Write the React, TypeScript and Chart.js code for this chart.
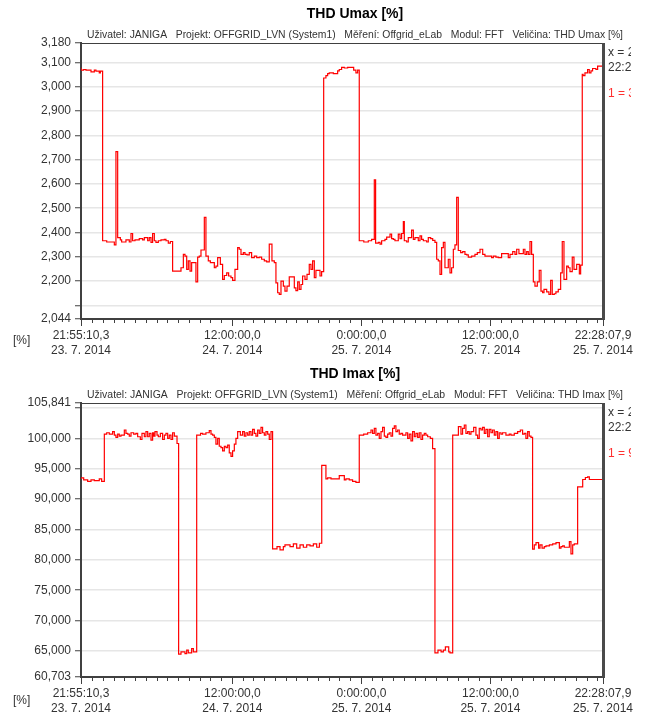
import React, { useEffect, useRef } from 'react';
import { Chart, registerables } from 'chart.js';

Chart.register(...registerables);

// Time axis: hours elapsed since 23. 7. 2014 21:55:10,3
const SPAN_HOURS = 48.5493;
const FIRST_FULL_HOUR = 0.0806; // 22:00:00 on the first day
const xLabelHours = [0, 14.0806, 26.0806, 38.0806, 48.5493];
const xLabelTime = ['21:55:10,3', '12:00:00,0', '0:00:00,0', '12:00:00,0', '22:28:07,9'];
const xLabelDate = ['23. 7. 2014', '24. 7. 2014', '25. 7. 2014', '25. 7. 2014', '25. 7. 2014'];
const cursorDate = '25. 7. 2014';
const cursorTime = '22:28:07,9';

const subtitleUser = 'Uživatel: JANIGA';
const subtitleProject = 'Projekt: OFFGRID_LVN (System1)';
const subtitleMeasurement = 'Měření: Offgrid_eLab';
const subtitleModule = 'Modul: FFT';

// THD Umax [%]
const umaxTicks = [2.044, 2.1, 2.2, 2.3, 2.4, 2.5, 2.6, 2.7, 2.8, 2.9, 3.0, 3.1, 3.18];
const umaxUnlabeled = [2.1];
const umaxHours = [
  0, 0.25, 0.46, 0.93, 1.24, 1.39, 1.7, 1.8, 2.01, 2.39, 3.1, 3.25, 3.41, 3.66, 3.78, 4.18, 4.49, 4.65, 4.8, 5.02,
  5.42, 5.73, 5.89, 6.2, 6.35, 6.51, 6.66, 6.82, 6.97, 7.19, 7.44, 7.75, 7.9, 8.12, 8.31, 8.52, 9.3, 9.52, 9.67, 9.83,
  9.98, 10.14, 10.29, 10.69, 10.85, 11.0, 11.16, 11.47, 11.62, 11.84, 12.03, 12.4, 12.55, 12.71, 12.96, 13.17, 13.33, 13.55, 13.73, 13.95,
  14.1, 14.32, 14.57, 14.72, 14.88, 15.1, 15.25, 15.44, 15.65, 15.87, 16.12, 16.34, 16.58, 16.8, 17.05, 17.27, 17.51, 17.76, 17.98, 18.13,
  18.29, 18.44, 18.6, 18.82, 18.97, 19.16, 19.37, 19.84, 19.99, 20.15, 20.3, 20.46, 20.61, 20.83, 21.02, 21.23, 21.39, 21.54, 21.7, 21.85,
  22.23, 22.38, 22.57, 22.78, 22.94, 23.09, 23.47, 23.87, 24.02, 24.24, 24.49, 24.8, 25.36, 25.57, 25.73, 25.88, 26.3, 26.72, 27.03, 27.28,
  27.4, 27.65, 27.81, 27.96, 28.27, 28.43, 28.74, 28.89, 29.05, 29.2, 29.51, 29.67, 29.82, 29.98, 30.07, 30.29, 30.44, 30.75, 30.91, 31.06,
  31.37, 31.53, 31.68, 31.84, 32.15, 32.3, 32.52, 32.71, 32.92, 33.08, 33.23, 33.39, 33.54, 33.7, 33.85, 34.16, 34.32, 34.47, 34.63, 34.78,
  34.94, 35.09, 35.31, 35.5, 35.71, 35.87, 36.02, 36.33, 36.64, 36.86, 37.11, 37.36, 37.57, 38.19, 38.35, 38.59, 38.81, 39.12, 39.74, 39.9,
  40.15, 40.36, 40.52, 40.73, 41.14, 41.29, 41.45, 41.6, 41.76, 41.91, 42.07, 42.22, 42.44, 42.62, 42.78, 42.93, 43.06, 43.31, 43.52, 43.68,
  43.83, 44.02, 44.17, 44.39, 44.61, 44.76, 44.92, 45.17, 45.32, 45.48, 45.69, 45.85, 46.1, 46.35, 46.47, 46.62, 46.7, 46.87, 47.12, 47.27,
  47.43, 47.58, 47.89, 48.05, 48.26,
];
const umaxValues = [
  3.078, 3.068, 3.071, 3.068, 3.061, 3.068, 3.064, 3.057, 3.064, 2.366, 2.361, 2.349, 2.733, 2.379, 2.37, 2.361, 2.37, 2.361, 2.396, 2.366,
  2.37, 2.375, 2.37, 2.379, 2.366, 2.379, 2.359, 2.396, 2.366, 2.359, 2.366, 2.37, 2.372, 2.366, 2.356, 2.363, 2.241, 2.255, 2.31, 2.303,
  2.248, 2.283, 2.241, 2.276, 2.197, 2.299, 2.303, 2.328, 2.462, 2.303, 2.283, 2.276, 2.255, 2.262, 2.297, 2.269, 2.207, 2.223, 2.234, 2.221,
  2.214, 2.203, 2.248, 2.338, 2.331, 2.31, 2.317, 2.31, 2.308, 2.317, 2.297, 2.303, 2.297, 2.299, 2.29, 2.283, 2.279, 2.352, 2.283, 2.276,
  2.193, 2.152, 2.145, 2.2, 2.179, 2.159, 2.179, 2.217, 2.172, 2.161, 2.197, 2.166, 2.186, 2.221, 2.207, 2.228, 2.269, 2.248, 2.283, 2.214,
  2.244, 2.221, 2.239, 3.036, 3.046, 3.054, 3.057, 3.054, 3.065, 3.071, 3.08, 3.077, 3.08, 3.068, 3.057, 3.068, 2.366, 2.361, 2.366, 2.372,
  2.617, 2.356, 2.359, 2.352, 2.366, 2.372, 2.381, 2.393, 2.375, 2.372, 2.366, 2.393, 2.375, 2.396, 2.445, 2.366, 2.361, 2.379, 2.41, 2.372,
  2.379, 2.366, 2.386, 2.372, 2.366, 2.361, 2.379, 2.375, 2.368, 2.359, 2.29, 2.283, 2.228, 2.338, 2.359, 2.255, 2.29, 2.234, 2.255, 2.331,
  2.349, 2.545, 2.326, 2.317, 2.321, 2.31, 2.308, 2.299, 2.303, 2.31, 2.317, 2.331, 2.31, 2.303, 2.297, 2.303, 2.299, 2.297, 2.313, 2.297,
  2.31, 2.321, 2.31, 2.331, 2.313, 2.331, 2.31, 2.321, 2.31, 2.363, 2.31, 2.197, 2.179, 2.197, 2.244, 2.159, 2.152, 2.166, 2.156, 2.145,
  2.203, 2.145, 2.148, 2.156, 2.166, 2.234, 2.363, 2.207, 2.262, 2.255, 2.239, 2.299, 2.248, 2.269, 2.23, 2.266, 3.051, 3.046, 3.057, 3.071,
  3.057, 3.065, 3.075, 3.071, 3.085,
];

// THD Imax [%]
const imaxTicks = [60.703, 65, 70, 75, 80, 85, 90, 95, 100, 105, 105.841];
const imaxUnlabeled = [105];
const imaxHours = [
  0, 0.25, 0.62, 0.93, 1.24, 1.7, 1.92, 2.17, 2.39, 2.63, 2.94, 3.1, 3.25, 3.41, 3.56, 3.72, 4.03, 4.18, 4.34, 4.49,
  4.65, 4.9, 5.11, 5.27, 5.52, 5.67, 5.89, 6.04, 6.2, 6.35, 6.51, 6.66, 6.76, 6.88, 7.07, 7.19, 7.38, 7.59, 7.75, 7.9,
  8.06, 8.21, 8.37, 8.52, 8.68, 8.93, 9.08, 9.3, 9.67, 9.83, 9.98, 10.29, 10.45, 10.76, 11.12, 11.31, 11.62, 11.93, 12.09, 12.24,
  12.4, 12.55, 12.71, 12.86, 13.02, 13.17, 13.33, 13.48, 13.64, 13.79, 13.95, 14.1, 14.26, 14.41, 14.57, 14.82, 15.03, 15.19, 15.34, 15.5,
  15.65, 15.81, 15.96, 16.12, 16.27, 16.43, 16.58, 16.74, 16.89, 17.05, 17.2, 17.36, 17.51, 17.67, 17.82, 18.23, 18.51, 18.82, 18.97, 19.44,
  19.75, 20.06, 20.37, 20.68, 20.99, 21.3, 21.61, 21.92, 22.17, 22.39, 22.78, 22.94, 23.25, 24.02, 24.49, 24.64, 24.95, 25.26, 25.57, 25.88,
  26.29, 26.66, 26.97, 27.12, 27.28, 27.43, 27.59, 27.74, 27.9, 28.05, 28.21, 28.36, 28.52, 28.67, 28.83, 28.98, 29.14, 29.29, 29.45, 29.6,
  29.76, 29.91, 30.22, 30.38, 30.53, 30.69, 30.84, 31.0, 31.15, 31.31, 31.46, 31.62, 31.77, 31.93, 32.08, 32.24, 32.49, 32.7, 32.92, 33.2,
  33.49, 33.7, 33.89, 34.2, 34.32, 34.57, 35.1, 35.34, 35.49, 35.65, 35.8, 35.96, 36.11, 36.27, 36.52, 36.73, 36.89, 37.04, 37.2, 37.35,
  37.51, 37.66, 37.82, 37.97, 38.13, 38.28, 38.44, 38.59, 38.75, 38.9, 39.06, 39.21, 39.52, 39.83, 39.99, 40.3, 40.61, 40.86, 41.07, 41.23,
  41.38, 41.54, 41.69, 41.85, 42.0, 42.16, 42.32, 42.56, 42.69, 42.88, 43.09, 43.25, 43.56, 43.87, 44.18, 44.49, 44.64, 44.8, 44.95, 45.42,
  45.57, 45.73, 45.88, 46.19, 46.66, 46.91, 47.12, 47.28, 48.05,
];
const imaxValues = [
  93.33, 93.5, 93.17, 92.94, 93.17, 93.06, 93.33, 92.94, 100.72, 100.94, 100.72, 101.11, 100.56, 100.17, 100.72, 100.39, 100.56, 101.39, 100.83, 100.72,
  100.39, 100.94, 100.72, 100.83, 100.28, 99.83, 100.83, 100.28, 101.11, 100.28, 100.83, 99.72, 100.94, 100.39, 101.11, 100.56, 100.28, 100.83, 99.83, 100.56,
  100.83, 100.0, 100.56, 99.83, 100.94, 100.39, 99.17, 64.46, 64.84, 64.57, 65.12, 64.67, 65.39, 64.84, 100.56, 100.83, 100.72, 100.94, 101.28, 100.72,
  100.56, 100.17, 99.06, 100.0, 98.72, 98.5, 97.94, 98.72, 98.5, 98.89, 97.61, 97.06, 97.94, 99.06, 100.0, 101.11, 100.56, 101.11, 100.39, 100.94,
  100.56, 101.11, 100.56, 101.5, 100.83, 100.39, 101.39, 100.83, 101.83, 100.94, 100.56, 101.11, 100.72, 99.83, 101.11, 81.81, 82.19, 81.64, 82.19, 82.47,
  82.19, 82.63, 81.92, 82.47, 82.08, 82.47, 82.3, 82.63, 82.08, 82.74, 95.56, 93.33, 93.5, 93.33, 93.89, 93.17, 93.33, 93.17, 92.94, 92.78,
  100.56, 100.72, 100.94, 101.39, 100.83, 101.67, 100.56, 100.83, 100.0, 101.11, 101.83, 100.39, 100.17, 100.72, 100.94, 100.39, 101.67, 102.06, 101.11, 101.39,
  100.72, 100.83, 100.56, 100.94, 100.0, 100.72, 99.61, 101.11, 100.28, 100.83, 100.17, 100.94, 99.83, 100.56, 100.83, 100.56, 100.28, 100.0, 98.33, 64.67,
  65.12, 64.84, 65.12, 65.66, 64.84, 64.67, 100.56, 101.94, 100.72, 101.67, 102.22, 100.83, 101.11, 100.72, 101.11, 101.83, 100.56, 100.0, 101.67, 101.39,
  101.83, 100.83, 101.5, 100.28, 101.5, 100.94, 101.39, 100.56, 101.11, 100.0, 100.94, 100.72, 100.94, 100.56, 100.72, 100.56, 100.83, 101.11, 101.39, 100.72,
  100.83, 100.0, 101.11, 100.39, 100.17, 81.76, 82.47, 82.85, 81.92, 82.47, 81.92, 82.19, 82.3, 82.47, 82.63, 82.85, 81.92, 82.19, 82.3, 82.08,
  83.0, 80.99, 82.47, 82.63, 92.02, 93.24, 93.57, 93.67, 93.24,
];

const FONT = '"Liberation Sans", Arial, sans-serif';
const TEXT = '#333333';
const AXIS = '#404040';
const LINE_RED = '#ff0000';

const fmt3 = (v: number) => v.toFixed(3).replace('.', ',');

type PanelSpec = {
  quantity: string;
  hours: number[];
  values: number[];
  yTicks: number[];
  yUnlabeled: number[];
  height: number;
  plotBottom: number;
};

const PLOT_LEFT = 81;
const PLOT_RIGHT = 603;
const PLOT_TOP = 43;
const CANVAS_W = 646;
const HEADER_CENTER = 355;
const SUBTITLE_WIDTH = 536;

function xTickHours(): number[] {
  const list: number[] = [...xLabelHours];
  for (let h = FIRST_FULL_HOUR; h < SPAN_HOURS; h += 1) list.push(+h.toFixed(4));
  return Array.from(new Set(list)).sort((a, b) => a - b);
}

const sameHour = (a: number, b: number) => Math.abs(a - b) < 1e-4;

const decorPlugin = {
  id: 'decor',
  afterDraw(chart: any, _args: any, opts: any) {
    const { ctx, chartArea: a } = chart;
    const spec: PanelSpec = opts.spec;
    ctx.save();

    // plot frame: top edge and the heavier right edge
    ctx.fillStyle = AXIS;
    ctx.fillRect(a.left, a.top, a.right - a.left, 1);
    ctx.fillStyle = '#4a4a4a';
    ctx.fillRect(a.right - 1, a.top, 3, a.bottom - a.top + 1);

    // longer marks at the labelled time ticks
    const xs = chart.scales.x;
    ctx.strokeStyle = AXIS;
    ctx.lineWidth = 1;
    xLabelHours.forEach((h) => {
      const px = Math.round(xs.getPixelForValue(h)) + 0.5;
      ctx.beginPath();
      ctx.moveTo(px, a.bottom);
      ctx.lineTo(px, a.bottom + 7);
      ctx.stroke();
    });

    // title
    ctx.fillStyle = '#000000';
    ctx.textAlign = 'center';
    ctx.textBaseline = 'middle';
    ctx.font = `bold 14px ${FONT}`;
    ctx.fillText(`THD ${spec.quantity} [%]`, HEADER_CENTER, 14);

    // measurement description line, set in a narrow face
    const sub = [subtitleUser, subtitleProject, subtitleMeasurement, subtitleModule, `Veličina: THD ${spec.quantity} [%]`].join('   ');
    ctx.font = `11px ${FONT}`;
    ctx.fillStyle = TEXT;
    const natural = ctx.measureText(sub).width;
    ctx.save();
    ctx.translate(HEADER_CENTER, 35);
    ctx.scale(SUBTITLE_WIDTH / natural, 1);
    ctx.fillText(sub, 0, 0);
    ctx.restore();

    // unit label
    ctx.font = `12px ${FONT}`;
    ctx.textAlign = 'left';
    ctx.fillText('[%]', 13, 341);

    // cursor readout (panel is narrower than its text)
    ctx.save();
    ctx.beginPath();
    ctx.rect(606, 44, 25, 60);
    ctx.clip();
    ctx.fillStyle = TEXT;
    ctx.fillText(`x = ${cursorDate}`, 608, 53);
    ctx.fillText(cursorTime, 608, 68);
    ctx.fillStyle = '#ff3030';
    ctx.fillText(`1 = ${fmt3(spec.values[spec.values.length - 1])}`, 608, 94);
    ctx.restore();

    ctx.restore();
  },
};

function buildChart(canvas: HTMLCanvasElement, spec: PanelSpec) {
  const points = spec.hours.map((h, i) => ({ x: h, y: spec.values[i] }));
  points.push({ x: SPAN_HOURS, y: spec.values[spec.values.length - 1] });
  const yMin = spec.yTicks[0];
  const yMax = spec.yTicks[spec.yTicks.length - 1];
  const ticksX = xTickHours();
  const font = { family: FONT, size: 12, lineHeight: 1.25 };

  return new Chart(canvas, {
    type: 'line',
    data: {
      datasets: [
        {
          data: points,
          borderColor: LINE_RED,
          borderWidth: 1.2,
          pointRadius: 0,
          stepped: 'after',
          fill: false,
        },
      ],
    },
    options: {
      animation: false,
      responsive: false,
      maintainAspectRatio: false,
      devicePixelRatio: 1,
      events: [],
      layout: { padding: { left: 0, top: PLOT_TOP, right: CANVAS_W - PLOT_RIGHT, bottom: 0 } },
      plugins: {
        legend: { display: false },
        tooltip: { enabled: false },
        title: { display: false },
        decor: { spec },
      } as any,
      scales: {
        x: {
          type: 'linear',
          min: 0,
          max: SPAN_HOURS,
          afterBuildTicks: (s: any) => {
            s.ticks = ticksX.map((v) => ({ value: v }));
          },
          afterFit: (s: any) => {
            s.height = spec.height - spec.plotBottom;
            s.paddingLeft = 0;
            s.paddingRight = 0;
          },
          ticks: {
            autoSkip: false,
            maxRotation: 0,
            minRotation: 0,
            padding: 5,
            color: TEXT,
            font,
            callback: (v: any) => {
              const i = xLabelHours.findIndex((h) => sameHour(h, Number(v)));
              return i >= 0 ? [xLabelTime[i], xLabelDate[i]] : '';
            },
          },
          grid: {
            drawOnChartArea: false,
            drawTicks: true,
            tickLength: 4,
            tickColor: AXIS,
            tickWidth: 1,
          },
          border: { display: true, color: AXIS, width: 2 },
        },
        y: {
          type: 'linear',
          min: yMin,
          max: yMax,
          afterBuildTicks: (s: any) => {
            s.ticks = spec.yTicks.map((v) => ({ value: v }));
          },
          afterFit: (s: any) => {
            s.width = PLOT_LEFT;
            s.paddingTop = 0;
            s.paddingBottom = 0;
          },
          ticks: {
            autoSkip: false,
            padding: 4,
            color: TEXT,
            font,
            callback: (v: any) => (spec.yUnlabeled.some((u) => Math.abs(u - Number(v)) < 1e-6) ? '' : fmt3(Number(v))),
          },
          grid: {
            color: (c: any) => {
              const v = c.tick ? c.tick.value : NaN;
              return v === yMin || v === yMax ? 'rgba(0,0,0,0)' : '#e6e6e6';
            },
            lineWidth: 1.5,
            drawTicks: true,
            tickLength: 6,
            tickColor: AXIS,
            tickWidth: 1,
          },
          border: { display: true, color: AXIS, width: 2 },
        },
      },
    },
    plugins: [decorPlugin],
  } as any);
}

const umaxSpec: PanelSpec = {
  quantity: 'Umax',
  hours: umaxHours,
  values: umaxValues,
  yTicks: umaxTicks,
  yUnlabeled: umaxUnlabeled,
  height: 360,
  plotBottom: 319,
};

const imaxSpec: PanelSpec = {
  quantity: 'Imax',
  hours: imaxHours,
  values: imaxValues,
  yTicks: imaxTicks,
  yUnlabeled: imaxUnlabeled,
  height: 357,
  plotBottom: 317,
};

function Panel({ spec, top }: { spec: PanelSpec; top: number }) {
  const ref = useRef<HTMLCanvasElement | null>(null);
  useEffect(() => {
    if (!ref.current) return;
    const chart = buildChart(ref.current, spec);
    return () => chart.destroy();
  }, [spec]);
  return (
    <canvas
      ref={ref}
      width={CANVAS_W}
      height={spec.height}
      style={{ position: 'absolute', left: 0, top, width: CANVAS_W, height: spec.height, display: 'block' }}
    />
  );
}

export default function App() {
  return (
    <div style={{ position: 'fixed', left: 0, top: 0, width: CANVAS_W, height: 717, background: '#ffffff', overflow: 'hidden' }}>
      <Panel spec={umaxSpec} top={0} />
      <Panel spec={imaxSpec} top={360} />
    </div>
  );
}
